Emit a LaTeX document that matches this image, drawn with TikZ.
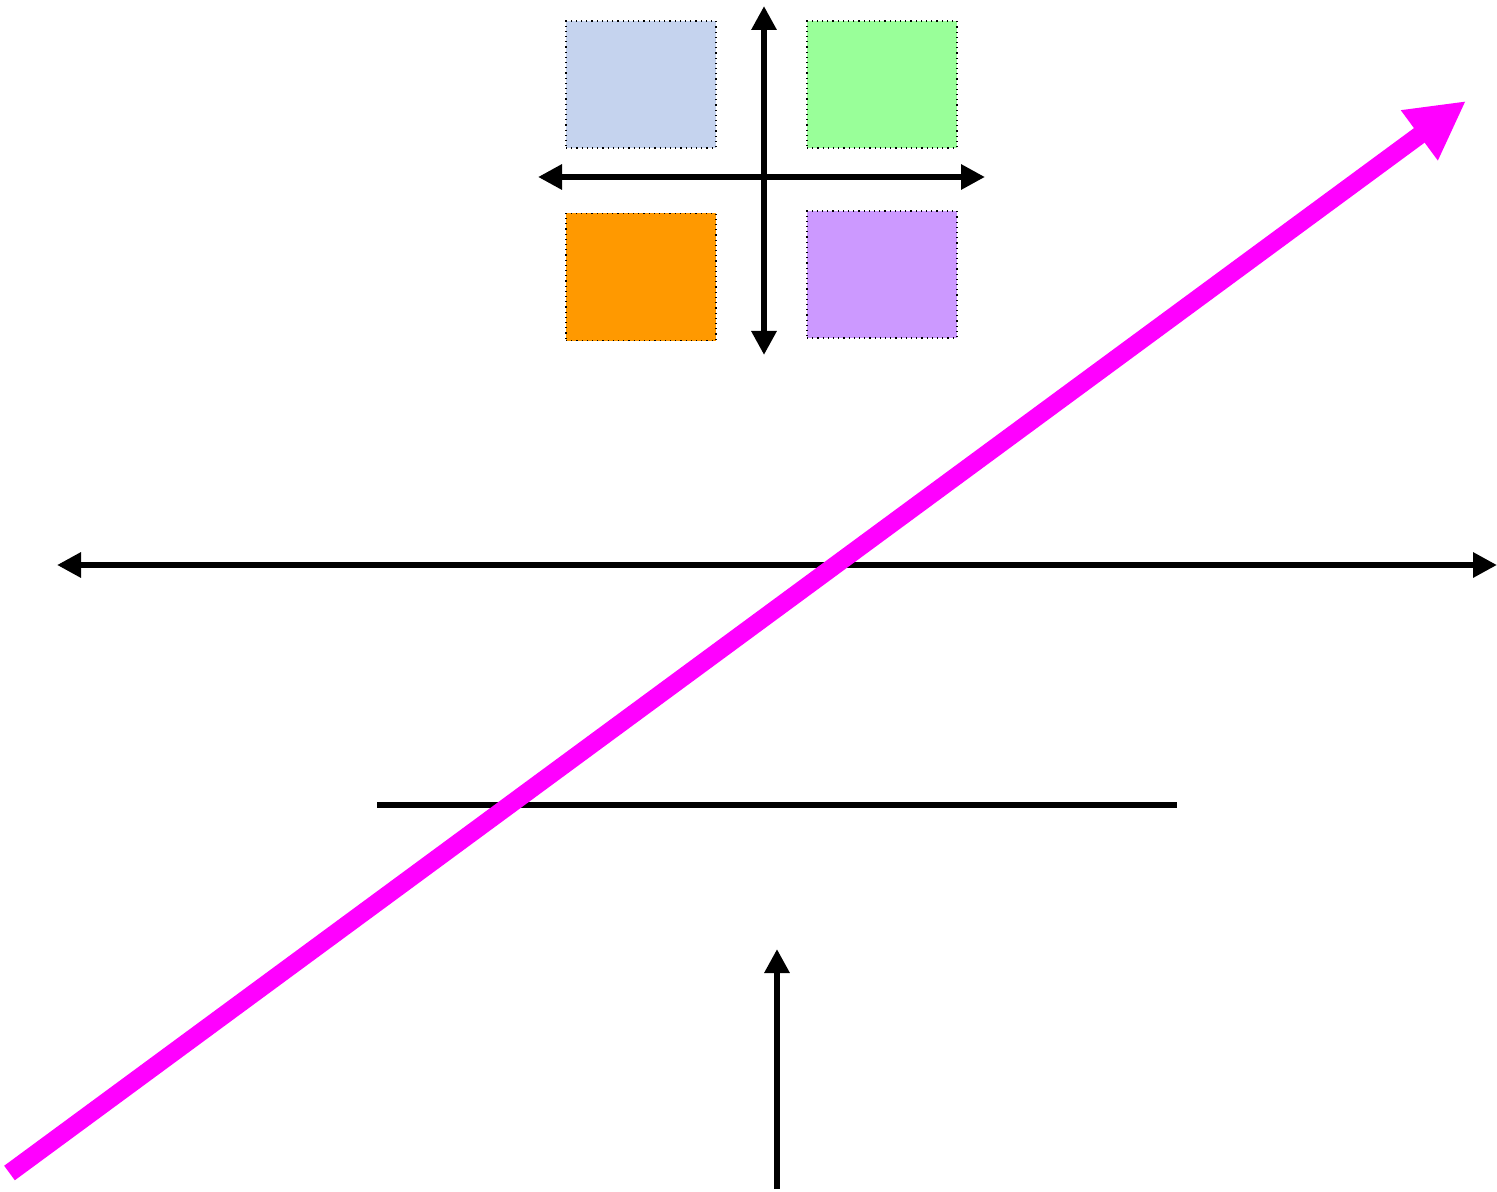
\documentclass[tikz,border=0pt]{standalone}
\usetikzlibrary{arrows.meta}
\definecolor{cblue}{HTML}{C5D3EE}
\definecolor{cgreen}{HTML}{99FF99}
\definecolor{corange}{HTML}{FF9900}
\definecolor{cpurple}{HTML}{CC99FF}
\definecolor{cmag}{HTML}{FF00FF}
\tikzset{
  quad/.style={draw=black, dotted, line width=0.6pt, inner sep=0pt, minimum width=75pt, minimum height=63.5pt},
  blk/.style={draw=black, line width=3.4pt},
  tip/.style={-{Triangle[length=12pt,width=12pt]}},
  tips/.style={{Triangle[length=12pt,width=12pt]}-{Triangle[length=12pt,width=12pt]}},
}
\begin{document}
\begin{tikzpicture}[x=0.5pt,y=-0.5pt]
\useasboundingbox (0,0) rectangle (1497,1192);
\node[quad, fill=cblue] (qb) at (641,84.5) {};
\node[quad, fill=cgreen] (qg) at (882,84.5) {};
\node[quad, fill=corange] (qo) at (641,277) {};
\node[quad, fill=cpurple] (qp) at (882,274.5) {};
\coordinate (vt) at (764,6);
\coordinate (vb) at (764,355);
\coordinate (hl) at (538,177);
\coordinate (hr) at (985,177);
\draw[blk, tips] (hl) -- (hr);
\draw[blk, tips] (vt) -- (vb);
\coordinate (ll) at (57,565);
\coordinate (lr) at (1497,565);
\draw[blk, tips] (ll) -- (lr);
\coordinate (sl) at (377,805);
\coordinate (sr) at (1177,805);
\draw[draw=black, line width=3.4pt] (sl) -- (sr);
\coordinate (ub) at (777,1189);
\coordinate (ut) at (777,949);
\draw[blk, tip] (ub) -- (ut);
\coordinate (ms) at (9.5,1173);
\coordinate (me) at (1466,101);
\draw[draw=cmag, line width=9pt, -{Triangle[length=29pt,width=29pt]}] (ms) -- (me);
\end{tikzpicture}
\end{document}
